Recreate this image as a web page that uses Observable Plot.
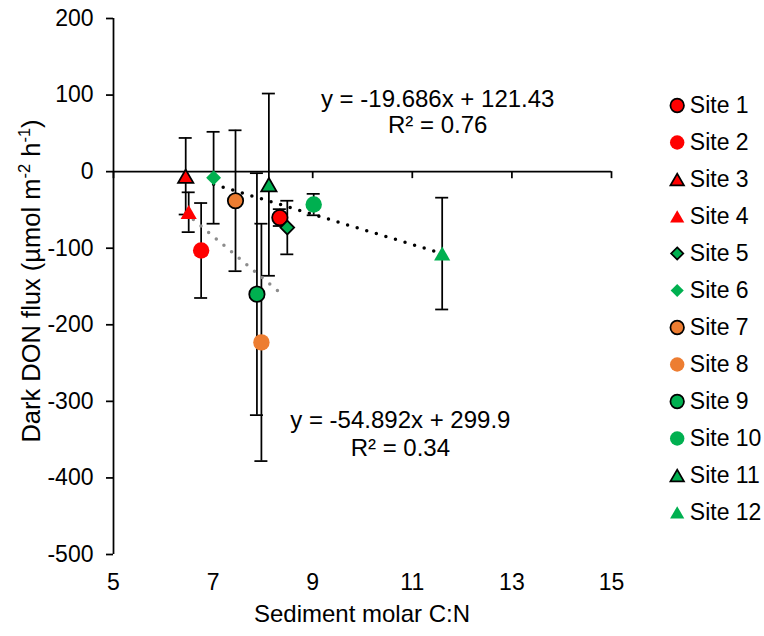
<!DOCTYPE html>
<html><head><meta charset="utf-8">
<script src="https://cdn.jsdelivr.net/npm/d3@7"></script>
<script src="https://cdn.jsdelivr.net/npm/@observablehq/plot@0.6"></script>
<style>
body{margin:0;background:#fff;}
#wrap{position:relative;width:764px;height:636px;overflow:hidden;background:#fff;}
#legend{position:absolute;left:660px;top:80px;}
</style></head><body><div id="wrap"><div id="main"></div><div id="legend"></div></div>
<script>
const sites = ["Site 1","Site 2","Site 3","Site 4","Site 5","Site 6","Site 7","Site 8","Site 9","Site 10","Site 11","Site 12"];
const cn = [8.34, 6.76, 6.45, 6.51, 8.49, 7.01, 7.45, 7.97, 7.88, 9.02, 8.12, 11.6];
const flux = [-60, -103, -6, -53, -73, -8, -38, -223, -160, -43, -17, -107];
const fluxErr = [11, 62, 50, 26, 35, 60, 92, 155, 158, 14, 119, 73];
const siteColor = ["#FF0000","#FF0000","#FF0000","#FF0000","#00B050","#00B050","#ED7D31","#ED7D31","#00B050","#00B050","#00B050","#00B050"];
const siteShape = ["circle","circle","triangle","triangle","diamond2","diamond2","circle","circle","circle","circle","triangle","triangle"];
const siteOutlined = [true,false,true,false,true,false,true,false,true,false,true,false];
const xTicks = [5,7,9,11,13,15];
const yTicks = [-500,-400,-300,-200,-100,0,100,200];
const trendSlope = [-19.686, -54.892];
const trendIntercept = [121.43, 299.9];
const trendFrom = [7.01, 6.45];
const trendTo = [11.6, 8.34];
const trendColor = ["#000000", "#8c8c8c"];
const trendEquation = ["y = -19.686x + 121.43", "y = -54.892x + 299.9"];
const trendR2 = ["R² = 0.76", "R² = 0.34"];

const FONT = "'Liberation Sans', Arial, sans-serif";
const FS = 23;
const FA = 24;

const table = sites.map((s, i) => ({site: s, x: cn[i], y: flux[i], err: fluxErr[i], color: siteColor[i], shape: siteShape[i], outlined: siteOutlined[i]}));
const trendPts = [];
trendSlope.forEach((m, k) => {
  [trendFrom[k], trendTo[k]].forEach(x => trendPts.push({k, x, y: m * x + trendIntercept[k], color: trendColor[k]}));
});

function siteDots(data, scale, chan) {
  const groups = [["circle", true, 7.7], ["circle", false, 8.2], ["triangle", true, 5.7], ["triangle", false, 6.0], ["diamond2", true, 6.2], ["diamond2", false, 6.7]];
  return groups.map(([shape, outl, r]) => Plot.dot(data.filter(d => d.shape === shape && d.outlined === outl), {
    ...chan, symbol: shape, r: r * scale, fill: "color",
    stroke: outl ? "black" : "none", strokeWidth: 1.75,
    dy: shape === "triangle" ? 2.2 * scale : 0
  }));
}

const style = {fontFamily: FONT, fontSize: FS + "px", background: "white", color: "black", overflow: "visible"};

const chart = Plot.plot({
  width: 764, height: 636,
  marginLeft: 113, marginRight: 153, marginTop: 18, marginBottom: 82,
  x: {domain: [5, 15]},
  y: {domain: [-500, 200]},
  color: {type: "identity"},
  style,
  marks: [
    Plot.axisY({ticks: yTicks, tickSize: 7, tickPadding: 13, tickFormat: d => String(d), label: null, strokeWidth: 1.75, fontSize: FS}),
    Plot.axisX({ticks: xTicks, tickSize: 0, tickPadding: 19, tickFormat: d => String(d), label: null, fontSize: FS}),
    Plot.ruleX([5], {stroke: "black", strokeWidth: 1.75}),
    Plot.ruleY([0], {stroke: "black", strokeWidth: 1.75}),
    Plot.ruleX(xTicks, {x: d => d, y1: 0, y2: 0, insetBottom: -7, stroke: "black", strokeWidth: 1.75}),
    Plot.ruleX(table, {x: "x", y1: d => d.y - d.err, y2: d => d.y + d.err, stroke: "black", strokeWidth: 1.75}),
    Plot.ruleY(table, {y: d => d.y - d.err, x1: "x", x2: "x", insetLeft: -6.5, insetRight: -6.5, stroke: "black", strokeWidth: 1.75}),
    Plot.ruleY(table, {y: d => d.y + d.err, x1: "x", x2: "x", insetLeft: -6.5, insetRight: -6.5, stroke: "black", strokeWidth: 1.75}),
    Plot.line(trendPts, {x: "x", y: "y", z: "k", stroke: "color", strokeWidth: 3.5, strokeDasharray: "0 10", strokeLinecap: "round"}),
    Plot.text([trendEquation[0]], {x: 11.51, y: 95, text: d => d, fontSize: FA, fill: "black"}),
    Plot.text([trendR2[0]], {x: 11.51, y: 60, text: d => d, fontSize: FA, fill: "black"}),
    Plot.text([trendEquation[1]], {x: 10.76, y: -325, text: d => d, fontSize: FA, fill: "black"}),
    Plot.text([trendR2[1]], {x: 10.76, y: -361, text: d => d, fontSize: FA, fill: "black"}),
    ...siteDots(table, 1, {x: "x", y: "y"})
  ]
});
document.getElementById("main").appendChild(chart);

const svg = d3.select(chart);
const xs = chart.scale("x");
svg.append("text").attr("x", xs.apply(10)).attr("y", 622).attr("text-anchor", "middle")
  .attr("font-size", 24).attr("fill", "black").text("Sediment molar C:N");
const yt = svg.append("text").attr("transform", "translate(40,281) rotate(-90)")
  .attr("text-anchor", "middle").attr("font-size", 25.5).attr("fill", "black");
yt.append("tspan").text("Dark DON flux (µmol m");
yt.append("tspan").attr("font-size", 16.5).attr("dy", -10).text("-2");
yt.append("tspan").attr("dy", 10).text(" h");
yt.append("tspan").attr("font-size", 16.5).attr("dy", -10).text("-1");
yt.append("tspan").attr("dy", 10).text(")");

const legend = Plot.plot({
  width: 104, height: 456, margin: 0,
  x: {domain: [0, 1], range: [16.7, 17.7], axis: null},
  y: {type: "point", domain: sites, range: [22.7, 433.3], padding: 0, axis: null},
  color: {type: "identity"},
  style,
  marks: [
    ...siteDots(table, 0.88, {x: () => 0, y: "site"}),
    Plot.text(table, {x: () => 0, y: "site", text: "site", textAnchor: "start", dx: 12.6, fontSize: FS, fill: "black"})
  ]
});
document.getElementById("legend").appendChild(legend);
</script></body></html>
